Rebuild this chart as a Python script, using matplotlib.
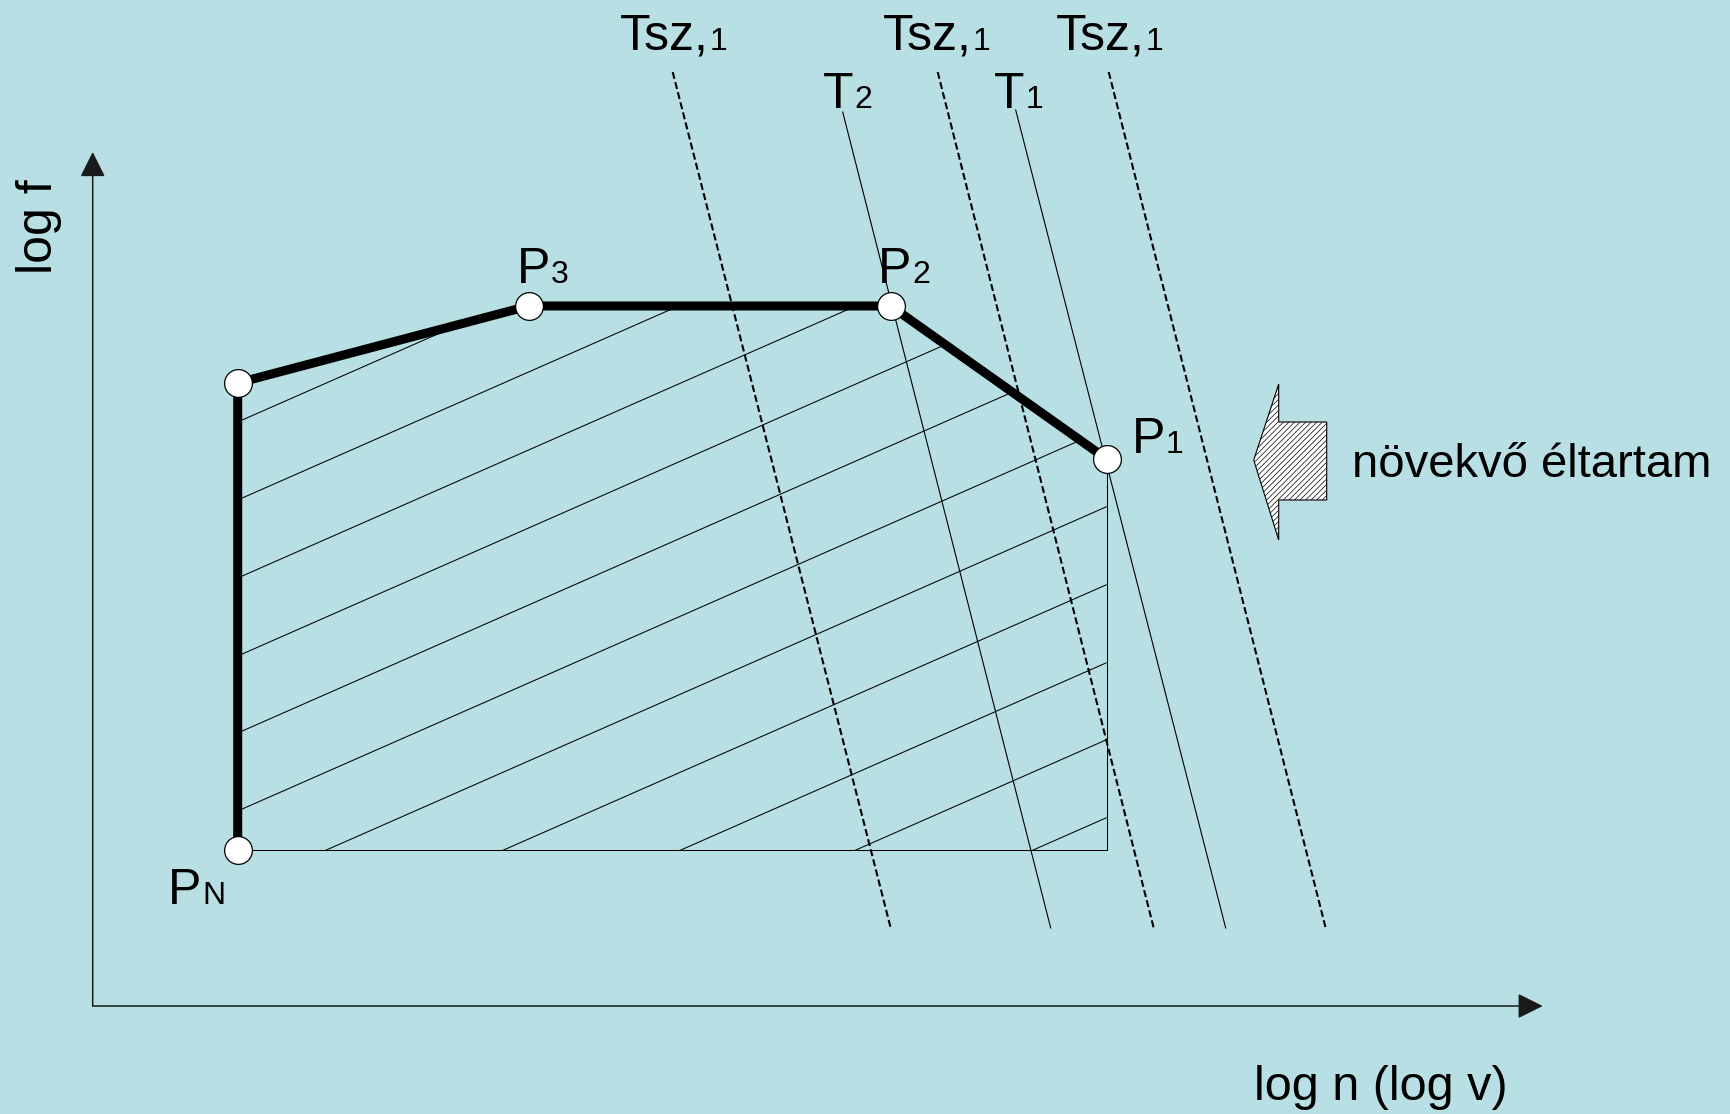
import matplotlib.pyplot as plt
from matplotlib.patches import Polygon
import numpy as np

plt.rcParams['font.family'] = ['Liberation Sans', 'DejaVu Sans']
plt.rcParams['hatch.linewidth'] = 0.5

bg = '#b8dfe3'

# corner points of the load spectrum (log n, log f)
pt_sub = ['N', '', '3', '2', '1']
pt_n = [1.45, 1.45, 4.36, 7.98, 10.14]
pt_f = [1.56, 6.23, 7.00, 7.00, 5.47]

# lifetime lines (top and bottom ends), Tsz dashed, T solid
life_main = ['Tsz,', 'T', 'Tsz,', 'T', 'Tsz,']
life_sub = ['1', '2', '1', '1', '1']
life_dashed = [True, False, True, False, True]
life_n_top = [5.80, 7.50, 8.45, 9.23, 10.16]
life_f_top = [9.34, 8.94, 9.34, 8.96, 9.34]
life_n_bot = [7.98, 9.58, 10.61, 11.33, 12.33]
life_f_bot = [0.78, 0.78, 0.78, 0.78, 0.78]
life_lab_n = [5.27, 7.30, 7.90, 9.01, 9.63]
life_lab_f = [9.56, 8.98, 9.56, 8.98, 9.56]

# hatching inside the spectrum
hatch_slope = 0.44
hatch_f0 = [5.84, 5.06, 4.28, 3.50, 2.73, 1.95, 1.17, 0.39, -0.39, -1.16, -1.94]

# "increasing life" arrow outline
arrow_n = [11.61, 11.86, 11.86, 12.34, 12.34, 11.86, 11.86]
arrow_f = [5.46, 6.22, 5.84, 5.84, 5.06, 5.06, 4.66]

x_end = 14.50
y_end = 8.54

fig = plt.figure(figsize=(17.31, 11.14), dpi=100)
fig.patch.set_facecolor(bg)
ax = fig.add_axes([0, 0, 1, 1])
ax.set_xlim(-0.927, 16.383)
ax.set_ylim(-1.08, 10.06)
ax.axis('off')

# coordinate axes with arrow heads
for xy in [(x_end, 0), (0, y_end)]:
    ax.annotate('', xy=xy, xytext=(0, 0),
                arrowprops=dict(arrowstyle='-|>,head_length=0.4,head_width=0.2',
                                mutation_scale=39, lw=1.1, color='#1a1a1a',
                                shrinkA=0, shrinkB=0))
ax.text(-0.54, 7.79, 'log f', fontsize=36, rotation=90, ha='center', va='center')
ax.text(11.61, -0.94, 'log n (log v)', fontsize=35, ha='left', va='baseline')

# hatched region clipped to the spectrum polygon
region = Polygon(list(zip(pt_n + [pt_n[-1]], pt_f + [pt_f[0]])),
                 closed=True, fill=False, edgecolor='none')
ax.add_patch(region)
hx = np.array([pt_n[0], pt_n[-1]])
for f0 in hatch_f0:
    ln, = ax.plot(hx, f0 + hatch_slope * (hx - pt_n[0]), color='k', lw=0.75, zorder=2)
    ln.set_clip_path(region)

# thin lower/right border
ax.plot([pt_n[0], pt_n[-1], pt_n[-1]], [pt_f[0], pt_f[0], pt_f[-1]],
        color='k', lw=0.75, zorder=2)

# lifetime lines
for i in range(len(life_main)):
    if life_dashed[i]:
        ax.plot([life_n_top[i], life_n_bot[i]], [life_f_top[i], life_f_bot[i]],
                color='k', lw=1.5, dashes=(3.4, 1.6), zorder=3)
    else:
        ax.plot([life_n_top[i], life_n_bot[i]], [life_f_top[i], life_f_bot[i]],
                color='k', lw=0.8, zorder=3)

# spectrum outline and corner points
ax.plot(pt_n, pt_f, color='k', lw=6.5, solid_joinstyle='miter', zorder=4)
ax.plot(pt_n, pt_f, 'o', ms=20, mfc='white', mec='k', mew=0.9, zorder=5)

renderer = fig.canvas.get_renderer()


def sub_label(x, y, main, sub, size=36, subsize=23):
    t = ax.text(x, y, main, fontsize=size, ha='left', va='baseline')
    bb = t.get_window_extent(renderer)
    x1 = ax.transData.inverted().transform((bb.x1, bb.y0))[0]
    ax.text(x1 + 0.01, y, sub, fontsize=subsize, ha='left', va='baseline')


for i in range(len(life_main)):
    sub_label(life_lab_n[i], life_lab_f[i], life_main[i], life_sub[i])

# point labels, offset from each corner point
pt_off = {0: (-0.70, -0.54), 2: (-0.12, 0.23), 3: (-0.13, 0.23), 4: (0.25, 0.06)}
for i, (dx, dy) in pt_off.items():
    sub_label(pt_n[i] + dx, pt_f[i] + dy, 'P', pt_sub[i])

# arrow pointing towards longer life
arr = Polygon(list(zip(arrow_n, arrow_f)), closed=True, facecolor='white',
              edgecolor='k', lw=0.8, hatch='/' * 6, zorder=3)
ax.add_patch(arr)
ax.text(12.59, 5.293, 'növekvő éltartam', fontsize=34, ha='left', va='baseline')

fig.savefig('out.png', dpi=100, facecolor=bg)
